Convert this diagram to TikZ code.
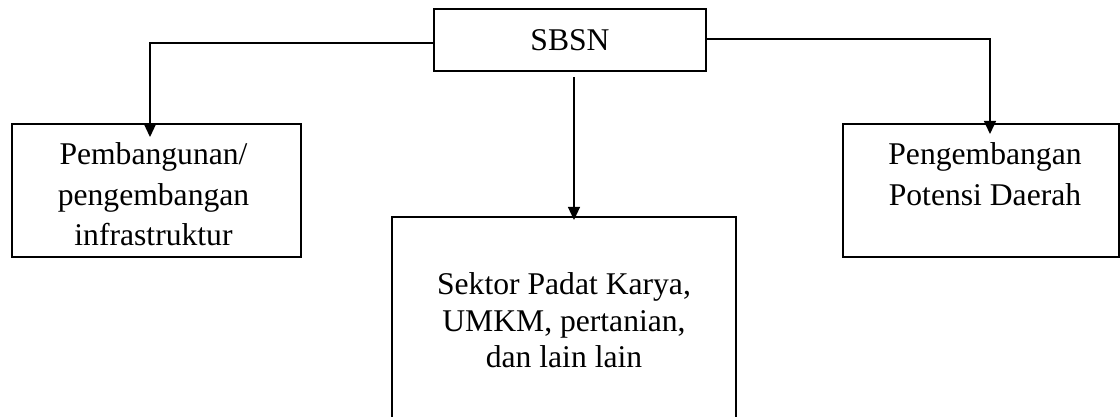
\documentclass[tikz,border=0pt]{standalone}
\usepackage{fontspec}
\setmainfont{Liberation Serif}
\usetikzlibrary{positioning,calc,arrows.meta}
\newlength\pxu
\setlength\pxu{0.013333cm}
\tikzset{
  kotak/.style={rectangle,draw=black,line width=0.7pt,inner sep=0pt},
  teks/.style={inner sep=0pt,align=center,font=\fontsize{12pt}{15.3pt}\selectfont},
}
\begin{document}
\begin{tikzpicture}[>={Triangle[length=5pt,width=4.5pt]},x=\pxu,y=-\pxu,line width=0.7pt]
\useasboundingbox (0,0) rectangle (1120,416);
\node (sbsn) at (570,40)[kotak,minimum width=272\pxu,minimum height=62\pxu,font=\fontsize{12pt}{15pt}\selectfont]{SBSN};
\node (infra) at (156.5,190.5)[kotak,minimum width=289\pxu,minimum height=133\pxu]{};
\node (potensi) at (981,190.5)[kotak,minimum width=276\pxu,minimum height=133\pxu]{};
\node (padat) at (564,320.5)[kotak,minimum width=344\pxu,minimum height=207\pxu,align=center,font=\fontsize{12pt}{13.9pt}\selectfont]{Sektor Padat Karya,\\UMKM, pertanian,\\dan lain lain};
\node (infratxt)[teks,below=19\pxu of infra.north,xshift=-3\pxu]{Pembangunan/\\pengembangan\\infrastruktur};
\node (potensitxt)[teks,below=19\pxu of potensi.north,xshift=4\pxu]{Pengembangan\\Potensi Daerah};

\coordinate (ujungL) at ($(infra.north)+(-6.5,14)$);
\coordinate (ujungR) at ($(potensi.north)+(9,11)$);
\coordinate (ujungM) at ($(padat.north)+(10,4)$);

\draw[->] ($(sbsn.west)+(0,3)$) -| (ujungL);
\draw[->] ($(sbsn.east)+(0,-1)$) -| (ujungR);
\draw[->] ($(sbsn.south)+(4,5)$) -- (ujungM);
\end{tikzpicture}
\end{document}
